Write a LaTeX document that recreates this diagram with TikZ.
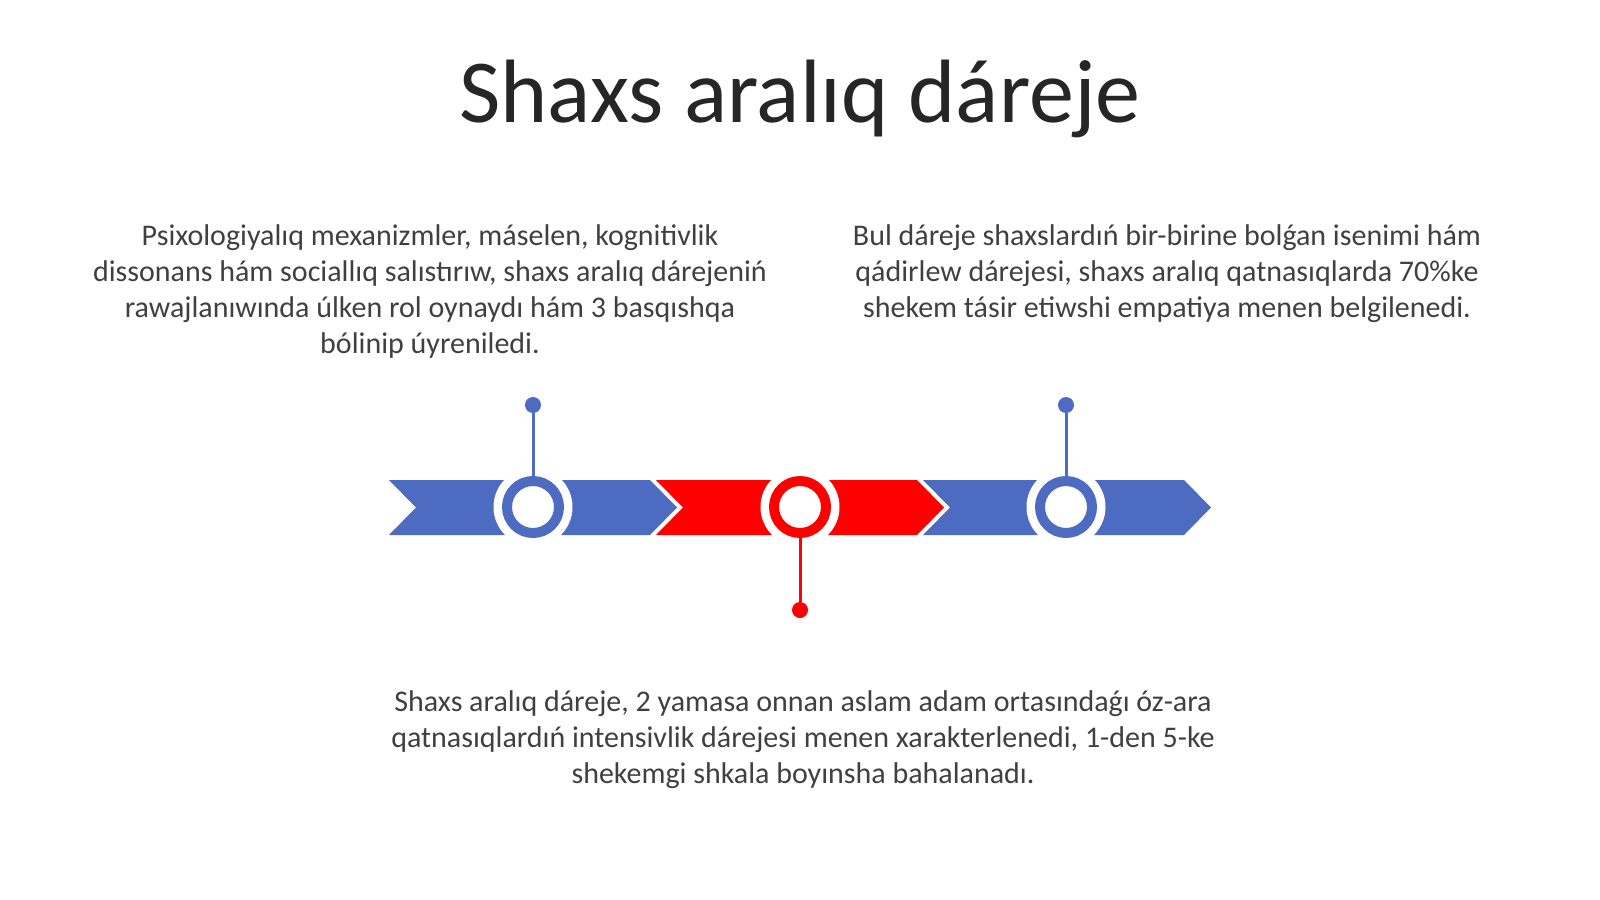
\documentclass[tikz,border=0pt]{standalone}
\usepackage{fontspec}
\setmainfont{Carlito}
\definecolor{tlblue}{HTML}{4D6CC1}
\definecolor{tlred}{HTML}{FF0000}
\definecolor{txt}{HTML}{404040}
\definecolor{ttl}{HTML}{262626}
\newcommand\tlchev[2]{\fill[#2] (#1,480) -- ++(261,0) -- ++(27,27.5) -- ++(-27,27.5) -- ++(-261,0) -- ++(27,-27.5) -- cycle;}
\begin{document}
\begin{tikzpicture}[x=1pt,y=-1pt,
  body/.style={font=\fontsize{30}{36}\selectfont, text=txt, align=center, anchor=base, inner sep=0pt},
  halo/.style={circle, fill=white, minimum size=79pt, inner sep=0pt},
  ring/.style={circle, draw=#1, line width=10pt, fill=white, minimum size=52pt, inner sep=0pt},
  dot/.style={circle, fill=#1, minimum size=16pt, inner sep=0pt},
  stem/.style={draw=#1, line width=3pt}]
\useasboundingbox[fill=white] (0,0) rectangle (1600,899);

\node[font=\fontsize{90}{108}\selectfont, text=ttl, anchor=base, inner sep=0pt] (title) at (800,122.5) {Shaxs aralıq dáreje};

\node[body] (p1) at (430,353) {Psixologiyalıq mexanizmler, máselen, kognitivlik\\dissonans hám sociallıq salıstırıw, shaxs aralıq dárejeniń\\rawajlanıwında úlken rol oynaydı hám 3 basqıshqa\\bólinip úyreniledi.};
\node[body] (p2) at (1167,317) {Bul dáreje shaxslardıń bir-birine bolǵan isenimi hám\\qádirlew dárejesi, shaxs aralıq qatnasıqlarda 70\%ke\\shekem tásir etiwshi empatiya menen belgilenedi.};
\node[body] (p3) at (803,783) {Shaxs aralıq dáreje, 2 yamasa onnan aslam adam ortasındaǵı óz-ara\\qatnasıqlardıń intensivlik dárejesi menen xarakterlenedi, 1-den 5-ke\\shekemgi shkala boyınsha bahalanadı.};

\tlchev{389}{tlblue}
\tlchev{656}{tlred}
\tlchev{923}{tlblue}

\node[halo] (h1) at (533,507) {};
\node[halo] (h2) at (800,507) {};
\node[halo] (h3) at (1066,507) {};

\node[dot=tlblue] (d1) at (533,405) {};
\node[dot=tlred] (d2) at (800,610) {};
\node[dot=tlblue] (d3) at (1066,405) {};

\node[ring=tlblue] (r1) at (533,507) {};
\node[ring=tlred] (r2) at (800,507) {};
\node[ring=tlblue] (r3) at (1066,507) {};

\draw[stem=tlblue] (d1) -- (r1);
\draw[stem=tlred] (d2) -- (r2);
\draw[stem=tlblue] (d3) -- (r3);
\end{tikzpicture}
\end{document}
